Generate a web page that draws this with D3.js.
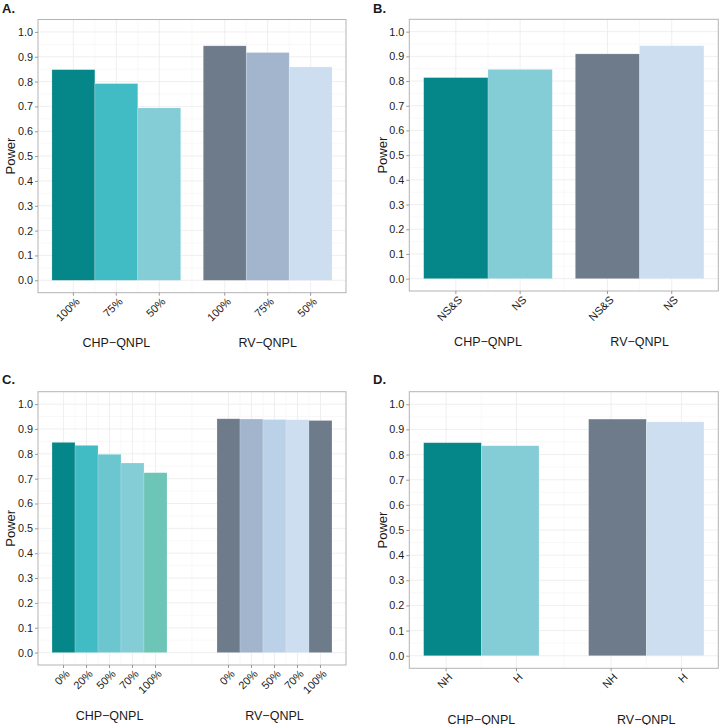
<!DOCTYPE html>
<html>
<head>
<meta charset="utf-8">
<script src="https://cdn.jsdelivr.net/npm/d3@7"></script>
<style>
  body { margin: 0; background: #fff; }
  text { font-family: "Liberation Sans", Arial, sans-serif; fill: #1a1a1a; }
</style>
</head>
<body>
<div id="chart"></div>
<script>
// data
var groups = ["CHP−QNPL", "RV−QNPL"];
var yTicks = [0, 0.1, 0.2, 0.3, 0.4, 0.5, 0.6, 0.7, 0.8, 0.9, 1.0];

var aLevels = ["100%", "75%", "50%"];
var aCHP = [0.848, 0.792, 0.694];
var aRV  = [0.944, 0.917, 0.859];

var bLevels = ["NS&S", "NS"];
var bCHP = [0.814, 0.847];
var bRV  = [0.910, 0.943];

var cLevels = ["0%", "20%", "50%", "70%", "100%"];
var cCHP = [0.846, 0.834, 0.798, 0.763, 0.724];
var cRV  = [0.941, 0.940, 0.938, 0.937, 0.934];

var dLevels = ["NH", "H"];
var dCHP = [0.847, 0.835];
var dRV  = [0.941, 0.930];

// colours
var tealA = ["#05878a", "#42bcc4", "#84cdd6"];
var slateA = ["#6e7b8b", "#a2b5cd", "#cddef0"];
var tealB = ["#05878a", "#84cdd6"];
var slateB = ["#6e7b8b", "#cddef0"];
var tealC = ["#05878a", "#42bcc4", "#6cc6d0", "#84cdd6", "#6cc5b6"];
var slateC = ["#6e7b8b", "#a2b5cd", "#bbd1e8", "#cddef0", "#6e7b8b"];

var svg = d3.select("#chart").append("svg")
  .attr("width", 719).attr("height", 725);

function draw_panel(p)
{
  var g = svg.append("g");

  var y = d3.scaleLinear().domain([-0.05, 1.05]).range([p.bottom, p.top]);

  var outer = d3.scaleBand().domain(groups)
    .range([p.left, p.right])
    .paddingInner(p.padIn).paddingOuter(p.padOut);
  var inner = d3.scaleBand().domain(p.levels)
    .range([0, outer.bandwidth()]).padding(0);
  var tickPos = d3.scalePoint().domain(p.levels)
    .range([0, outer.bandwidth()]).padding(p.tickPad);

  var ticksX = [];
  groups.forEach(function(gr) {
    p.levels.forEach(function(l) { ticksX.push({x: outer(gr) + tickPos(l), label: l}); });
  });

  // grid
  var minorY = d3.range(0, 10).map(function(i) { return i * 0.1 + 0.05; });
  g.selectAll(".ymin").data(minorY).enter().append("line")
    .attr("x1", p.left).attr("x2", p.right)
    .attr("y1", function(d) { return y(d); }).attr("y2", function(d) { return y(d); })
    .attr("stroke", "#f4f4f4").attr("stroke-width", 0.6);
  var minorX = [];
  for (var i = 0; i < ticksX.length - 1; i++) minorX.push((ticksX[i].x + ticksX[i + 1].x) / 2);
  g.selectAll(".xmin").data(minorX).enter().append("line")
    .attr("y1", p.top).attr("y2", p.bottom)
    .attr("x1", function(d) { return d; }).attr("x2", function(d) { return d; })
    .attr("stroke", "#f4f4f4").attr("stroke-width", 0.6);
  g.selectAll(".ymaj").data(yTicks).enter().append("line")
    .attr("x1", p.left).attr("x2", p.right)
    .attr("y1", function(d) { return y(d); }).attr("y2", function(d) { return y(d); })
    .attr("stroke", "#ebebeb").attr("stroke-width", 0.8);
  g.selectAll(".xmaj").data(ticksX).enter().append("line")
    .attr("y1", p.top).attr("y2", p.bottom)
    .attr("x1", function(d) { return d.x; }).attr("x2", function(d) { return d.x; })
    .attr("stroke", "#ebebeb").attr("stroke-width", 0.8);

  // bars
  var series = [p.chp, p.rv];
  var cols = [p.chpCol, p.rvCol];
  groups.forEach(function(gr, gi) {
    g.selectAll(".bar" + gi).data(series[gi]).enter().append("rect")
      .attr("x", function(d, i) { return outer(gr) + inner(p.levels[i]); })
      .attr("width", inner.bandwidth())
      .attr("y", function(d) { return y(d); })
      .attr("height", function(d) { return y(0) - y(d); })
      .attr("fill", function(d, i) { return cols[gi][i]; })
      .attr("stroke", "#ffffff").attr("stroke-opacity", 0.3).attr("stroke-width", 0.6);
  });

  // panel border
  g.append("rect")
    .attr("x", p.left).attr("y", p.top)
    .attr("width", p.right - p.left).attr("height", p.bottom - p.top)
    .attr("fill", "none").attr("stroke", "#b3b3b3").attr("stroke-width", 1);

  // y axis
  var yAxis = d3.axisLeft(y).tickValues(yTicks).tickSize(3).tickPadding(2)
    .tickFormat(d3.format(".1f"));
  var ya = g.append("g").attr("transform", "translate(" + p.left + ",0)").call(yAxis);
  ya.select(".domain").remove();
  ya.selectAll("line").attr("stroke", "#999");
  ya.selectAll("text").style("font-size", "10.8px").attr("fill", "#1a1a1a");

  // x ticks + rotated labels
  g.selectAll(".xt").data(ticksX).enter().append("line")
    .attr("x1", function(d) { return d.x; }).attr("x2", function(d) { return d.x; })
    .attr("y1", p.bottom).attr("y2", p.bottom + 3)
    .attr("stroke", "#999");
  g.selectAll(".xl").data(ticksX).enter().append("text")
    .attr("transform", function(d) { return "translate(" + (d.x + 1.5) + "," + (p.bottom + 4) + ") rotate(-45)"; })
    .attr("text-anchor", "end")
    .attr("dy", "0.71em")
    .style("font-size", "11px")
    .text(function(d) { return d.label; });

  // group names
  g.selectAll(".gl").data(groups).enter().append("text")
    .attr("x", function(d) { return outer(d) + outer.bandwidth() / 2; })
    .attr("y", p.groupY)
    .attr("text-anchor", "middle")
    .style("font-size", "12.5px")
    .text(function(d) { return d; });

  // y title
  g.append("text")
    .attr("transform", "translate(" + p.titleX + "," + ((p.top + p.bottom) / 2) + ") rotate(-90)")
    .attr("text-anchor", "middle")
    .style("font-size", "13px")
    .text("Power");

  // panel letter
  g.append("text")
    .attr("x", p.letterX).attr("y", p.letterY)
    .style("font-size", "13px").style("font-weight", "bold")
    .text(p.letter);
}

draw_panel({letter: "A.", letterX: 2, letterY: 12.5, titleX: 15,
  left: 38, right: 346, top: 19.5, bottom: 292.7, padIn: 0.149, padOut: 0.092, tickPad: 0.5,
  groupY: 346.5, levels: aLevels, chp: aCHP, rv: aRV, chpCol: tealA, rvCol: slateA});
draw_panel({letter: "B.", letterX: 373, letterY: 12.5, titleX: 386.5,
  left: 409.3, right: 718.3, top: 19.3, bottom: 291, padIn: 0.152, padOut: 0.095, tickPad: 0.5,
  groupY: 345.5, levels: bLevels, chp: bCHP, rv: bRV, chpCol: tealB, rvCol: slateB});
draw_panel({letter: "C.", letterX: 2, letterY: 384, titleX: 15,
  left: 38, right: 346, top: 391.7, bottom: 665, padIn: 0.303, padOut: 0.085, tickPad: 0.5,
  groupY: 719.5, levels: cLevels, chp: cCHP, rv: cRV, chpCol: tealC, rvCol: slateC});
draw_panel({letter: "D.", letterX: 373, letterY: 384, titleX: 386.5,
  left: 409.3, right: 718.3, top: 391.7, bottom: 668.3, padIn: 0.301, padOut: 0.087, tickPad: 0.32,
  groupY: 723.5, levels: dLevels, chp: dCHP, rv: dRV, chpCol: tealB, rvCol: slateB});
</script>
</body>
</html>
